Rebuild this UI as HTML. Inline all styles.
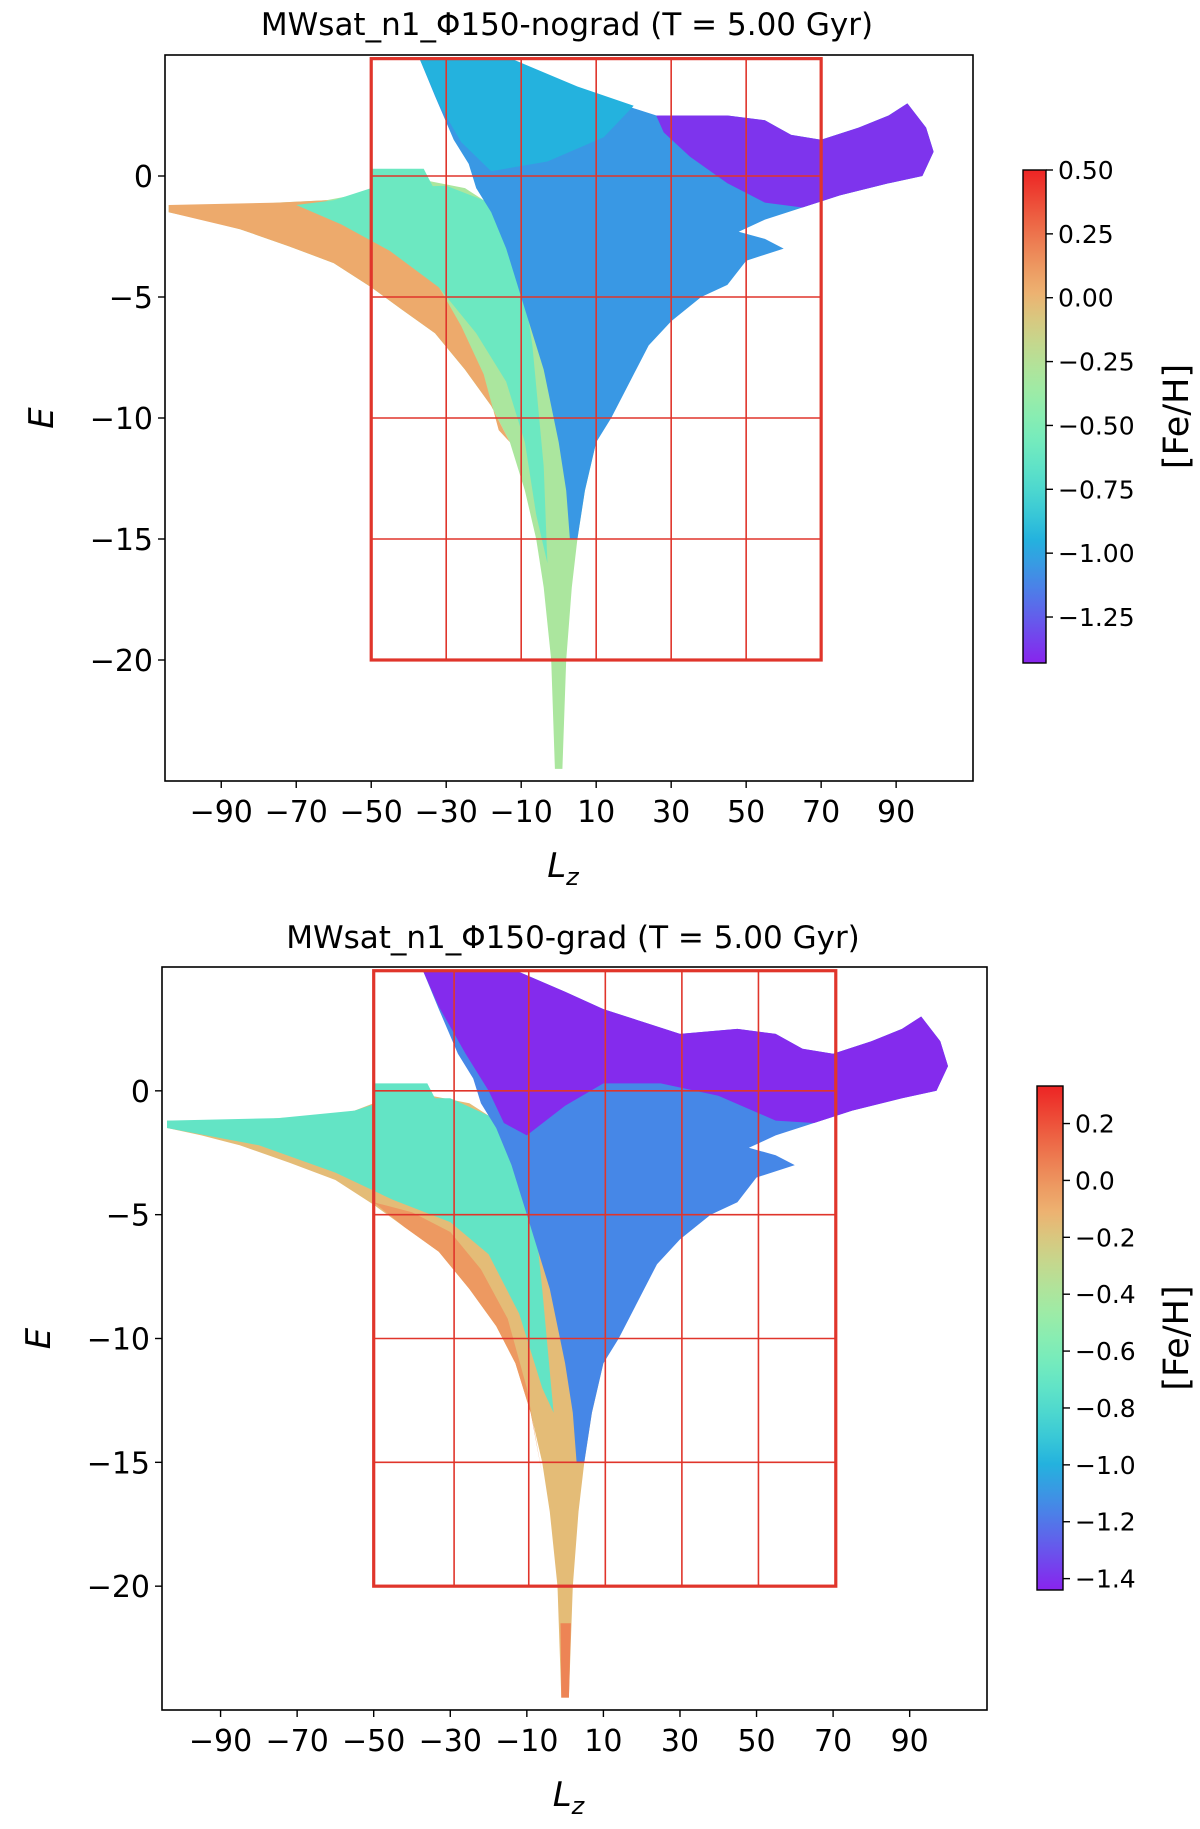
<!DOCTYPE html>
<html><head><meta charset="utf-8">
<style>
html,body{margin:0;padding:0;background:#fff;}
svg{display:block;}
text{font-family:"DejaVu Sans","Liberation Sans",sans-serif;fill:#000;}
</style></head>
<body>
<svg id="fig" width="1200" height="1829" viewBox="0 0 1200 1829" xmlns="http://www.w3.org/2000/svg"></svg>
<script>
// ---- data ----
const xTickValues = [-90,-70,-50,-30,-10,10,30,50,70,90];
const yTickValues = [0,-5,-10,-15,-20];
const cbTicksTop = [0.50,0.25,0.00,-0.25,-0.50,-0.75,-1.00,-1.25];
const cbTickLabelsTop = ["0.50","0.25","0.00","\u22120.25","\u22120.50","\u22120.75","\u22121.00","\u22121.25"];
const cbTicksBottom = [0.2,0.0,-0.2,-0.4,-0.6,-0.8,-1.0,-1.2,-1.4];
const cbTickLabelsBottom = ["0.2","0.0","\u22120.2","\u22120.4","\u22120.6","\u22120.8","\u22121.0","\u22121.2","\u22121.4"];
const gridXTop = [-50,-30,-10,10,30,50,70];
const gridXBottom = [-50,-29,-9.5,10.5,30.5,50.5,70.7];
const gridYValues = [0,-5,-10,-15];
const gridYTopEdge = 4.85;
const gridYBottomEdge = -20;

// region shapes in (Lz, E) data coordinates
const wingShape = [[-104,-1.2],[-90,-1.3],[-75,-1.1],[-62,-1.0],[-55,-0.8],[-50,-0.5],[-45,-0.3],[-35,-0.2],[-25,-0.5],[-20,-1.0],[-15,-1.5],[-10,-2],[0,-3],[10,-6],[15,-9],[10,-11],[7,-13],[5,-15],[3.5,-17],[2,-20],[1,-24.5],[-1,-24.5],[-2,-20],[-4,-17],[-6,-15],[-9,-13],[-13,-11],[-18,-9.5],[-25,-8],[-33,-6.5],[-42,-5.5],[-50,-4.6],[-60,-3.6],[-72,-2.9],[-85,-2.2],[-95,-1.8],[-104,-1.5]];
const blueShape = [[-37,4.8],[-12,4.8],[0,4],[10,3.3],[20,2.8],[30,2.3],[45,2.5],[55,2.3],[62,1.7],[70,1.5],[80,2],[88,2.5],[93,3],[98,2],[100,1],[97,0],[88,-0.3],[75,-0.8],[65,-1.3],[55,-1.8],[48,-2.3],[55,-2.6],[60,-3],[50,-3.5],[45,-4.5],[38,-5],[30,-6],[24,-7],[19,-8.5],[14,-10],[10,-11],[7,-13],[5,-15],[3,-15],[2,-13],[0,-11],[-4,-8],[-9,-5.5],[-14,-3],[-18,-1.5],[-22,-0.5],[-24,0.5],[-28,1.5],[-33,3.3]];
const orangeWingTop = [[-104,-1.2],[-75,-1.1],[-62,-1.0],[-52,-1.6],[-42,-2.8],[-33,-4.3],[-26,-6.2],[-20,-8.2],[-16,-10.5],[-13,-11],[-18,-9.5],[-25,-8],[-33,-6.5],[-42,-5.5],[-50,-4.6],[-60,-3.6],[-72,-2.9],[-85,-2.2],[-104,-1.5]];
const greenTop = [[-70,-1.2],[-60,-1.0],[-50,-0.5],[-30,-0.4],[-20,-1],[-12,-2],[-7,-7],[-4,-12],[-3,-16],[-6,-14],[-9,-11],[-14,-8.5],[-22,-6.5],[-32,-4.6],[-45,-3.1],[-58,-2.0]];
const lightStreamTop = [[-37,4.8],[-12,4.8],[5,3.7],[20,2.9],[12,1.6],[-3,0.6],[-18,0.2],[-26,1.4],[-32,3]];
const purpleTop = [[26,2.5],[45,2.5],[55,2.3],[62,1.7],[70,1.5],[80,2],[88,2.5],[93,3],[98,2],[100,1],[97,0],[88,-0.3],[75,-0.8],[65,-1.3],[55,-1.1],[45,-0.3],[35,0.8],[28,1.8]];
const greenBottom = [[-104,-1.2],[-75,-1.1],[-55,-0.8],[-45,-0.3],[-30,-0.3],[-20,-1],[-10,-2],[-6,-8],[-3,-13],[-6,-12],[-12,-9],[-20,-6.6],[-30,-5.3],[-45,-4.4],[-60,-3.3],[-80,-2.2],[-104,-1.5]];
const orangeBandBottom = [[-50,-4.5],[-40,-4.9],[-30,-5.7],[-22,-7.2],[-15,-9.2],[-10,-12],[-6,-15.5],[-9,-13],[-13,-11],[-18,-9.5],[-25,-8],[-33,-6.5],[-42,-5.5]];
const tipBottom = [[-1.2,-21.5],[1.5,-21.5],[1,-24.5],[-1,-24.5]];
const purpleBottom = [[-37,4.8],[-12,4.8],[0,4],[10,3.3],[20,2.8],[30,2.3],[45,2.5],[55,2.3],[62,1.7],[70,1.5],[80,2],[88,2.5],[93,3],[98,2],[100,1],[97,0],[88,-0.3],[75,-0.8],[65,-1.3],[55,-1.2],[40,-0.2],[25,0.3],[10,0.3],[0,-0.6],[-10,-1.8],[-16,-1.3],[-20,0],[-26,1.5],[-33,3.4]];
const specks = [[-50,0.3],[-36,0.3],[-32,-0.9],[-50,-0.9]];

const regionsTop = [
  {name:"disk-wing", pts:wingShape, val:-0.3},
  {name:"orange-wing", pts:orangeWingTop, val:0.05},
  {name:"green-inner", pts:greenTop, val:-0.6},
  {name:"speckle-strip", pts:specks, val:-0.6},
  {name:"blue-halo", pts:blueShape, val:-1.05},
  {name:"light-stream", pts:lightStreamTop, val:-0.95},
  {name:"purple-stream", pts:purpleTop, val:-1.38}
];
const regionsBottom = [
  {name:"disk-wing", pts:wingShape, val:-0.15},
  {name:"tail-tip", pts:tipBottom, val:0.05},
  {name:"orange-band", pts:orangeBandBottom, val:-0.02},
  {name:"green-inner", pts:greenBottom, val:-0.72},
  {name:"speckle-strip", pts:specks, val:-0.72},
  {name:"blue-halo", pts:blueShape, val:-1.15},
  {name:"purple-stream", pts:purpleBottom, val:-1.42}
];

// ---- drawing ----
const NS = "http://www.w3.org/2000/svg";
const svg = document.getElementById("fig");
function mk(tag, attrs, parent){ const e=document.createElementNS(NS,tag); for(const k in attrs) e.setAttribute(k,attrs[k]); (parent||svg).appendChild(e); return e; }
function rainbow(t){ t=Math.max(0,Math.min(1,t));
  const r=Math.min(1,Math.abs(2*t-0.5)), g=Math.sin(Math.PI*t), b=Math.cos(Math.PI*t/2);
  const f=c=>Math.round((c*255*0.85+255*0.15)*0.93);
  return "rgb("+f(r)+","+f(g)+","+f(b)+")"; }

function panel(cfg){
  const g = mk("g",{});
  
  
  const sx = v => cfg.left + (v-cfg.xmin)/(cfg.xmax-cfg.xmin)*(cfg.right-cfg.left);
  const sy = v => cfg.top + (cfg.ymax-v)/(cfg.ymax-cfg.ymin)*(cfg.bottom-cfg.top);
  const cnorm = v => (v-cfg.cmin)/(cfg.cmax-cfg.cmin);
  cfg.regions.forEach(r=>{
    const p = mk("polygon",{points:r.pts.map(q=>sx(q[0]).toFixed(1)+","+sy(q[1]).toFixed(1)).join(" "),fill:rainbow(cnorm(r.val))},g);
    
    
  });
  const red="#e0352b";
  cfg.gridX.forEach((v,i)=>{ if(i>0 && i<cfg.gridX.length-1){ const l=mk("line",{x1:sx(v),x2:sx(v),y1:sy(gridYTopEdge),y2:sy(gridYBottomEdge),stroke:red,"stroke-width":1.6},g);
      }});
  gridYValues.forEach(v=>{ const l=mk("line",{x1:sx(cfg.gridX[0]),x2:sx(cfg.gridX[cfg.gridX.length-1]),y1:sy(v),y2:sy(v),stroke:red,"stroke-width":1.6},g);
      });
  const box=mk("rect",{x:sx(cfg.gridX[0]),y:sy(gridYTopEdge),width:sx(cfg.gridX[cfg.gridX.length-1])-sx(cfg.gridX[0]),height:sy(gridYBottomEdge)-sy(gridYTopEdge),fill:"none",stroke:red,"stroke-width":3.2},g);
   
  const fr=mk("rect",{x:cfg.left,y:cfg.top,width:cfg.right-cfg.left,height:cfg.bottom-cfg.top,fill:"none",stroke:"#000","stroke-width":1.6},g);
   
  xTickValues.forEach(v=>{ const x=sx(v);
    mk("line",{x1:x,x2:x,y1:cfg.bottom,y2:cfg.bottom+7,stroke:"#000","stroke-width":1.4},g);
    const t=mk("text",{x:x,y:cfg.bottom+41,"text-anchor":"middle","font-size":30},g);
    t.textContent=(v<0?"\u2212":"")+Math.abs(v);
      });
  yTickValues.forEach(v=>{ const y=sy(v);
    mk("line",{x1:cfg.left-7,x2:cfg.left,y1:y,y2:y,stroke:"#000","stroke-width":1.4},g);
    const t=mk("text",{x:cfg.left-12,y:y+11,"text-anchor":"end","font-size":30},g);
    t.textContent=(v<0?"\u2212":"")+Math.abs(v);
      });
  const ti=mk("text",{x:cfg.titleX,y:cfg.titleY,"text-anchor":"middle","font-size":31},g);
  ti.textContent=cfg.title;  
  const yl=mk("text",{x:0,y:0,"text-anchor":"middle","font-size":34,"font-style":"italic",transform:"translate("+(cfg.left-112)+","+((cfg.top+cfg.bottom)/2)+") rotate(-90)"},g);
  yl.textContent="E";  
  const xl=mk("text",{x:(cfg.left+cfg.right)/2-6,y:cfg.bottom+96,"text-anchor":"middle","font-size":34,"font-style":"italic"},g);
   
  xl.appendChild(document.createTextNode("L"));
  const sub=mk("tspan",{"font-size":24,dy:8},xl); sub.textContent="z";
  const gid="cb-"+cfg.id;
  const grad=mk("linearGradient",{id:gid,x1:0,y1:1,x2:0,y2:0},mk("defs",{},g));
  for(let i=0;i<=20;i++){ mk("stop",{offset:(i/20),"stop-color":rainbow(i/20)},grad); }
  const cb=mk("rect",{x:cfg.cbX,y:cfg.cbTop,width:cfg.cbW,height:cfg.cbBottom-cfg.cbTop,fill:"url(#"+gid+")",stroke:"#000","stroke-width":1.4},g);
   
  const cy = v => cfg.cbBottom - (v-cfg.cmin)/(cfg.cmax-cfg.cmin)*(cfg.cbBottom-cfg.cbTop);
  cfg.cbTicks.forEach((v,i)=>{ const y=cy(v);
    mk("line",{x1:cfg.cbX+cfg.cbW,x2:cfg.cbX+cfg.cbW+7,y1:y,y2:y,stroke:"#000","stroke-width":1.4},g);
    const t=mk("text",{x:cfg.cbX+cfg.cbW+12,y:y+9,"font-size":25},g);
    t.textContent=cfg.cbLabels[i];   });
  const cl=mk("text",{x:0,y:0,"text-anchor":"middle","font-size":35,transform:"translate("+cfg.cbLabelX+","+((cfg.cbTop+cfg.cbBottom)/2)+") rotate(-90)"},g);
  cl.textContent="[Fe/H]";  
}

panel({id:"top",title:"MWsat_n1_\u03a6150-nograd (T = 5.00 Gyr)",titleX:567,titleY:35,
  left:165,right:973,top:55,bottom:781,xmin:-105,xmax:110.5,ymin:-25,ymax:5,
  regions:regionsTop,gridX:gridXTop,cmin:-1.43,cmax:0.5,
  cbX:1023,cbW:23,cbTop:170,cbBottom:663,cbTicks:cbTicksTop,cbLabels:cbTickLabelsTop,cbLabelX:1188});
panel({id:"bottom",title:"MWsat_n1_\u03a6150-grad (T = 5.00 Gyr)",titleX:573,titleY:948,
  left:162,right:987,top:967,bottom:1710,xmin:-105.3,xmax:110.2,ymin:-25,ymax:5,
  regions:regionsBottom,gridX:gridXBottom,cmin:-1.44,cmax:0.332,
  cbX:1037,cbW:26,cbTop:1086,cbBottom:1590,cbTicks:cbTicksBottom,cbLabels:cbTickLabelsBottom,cbLabelX:1188});
</script>
</body></html>
